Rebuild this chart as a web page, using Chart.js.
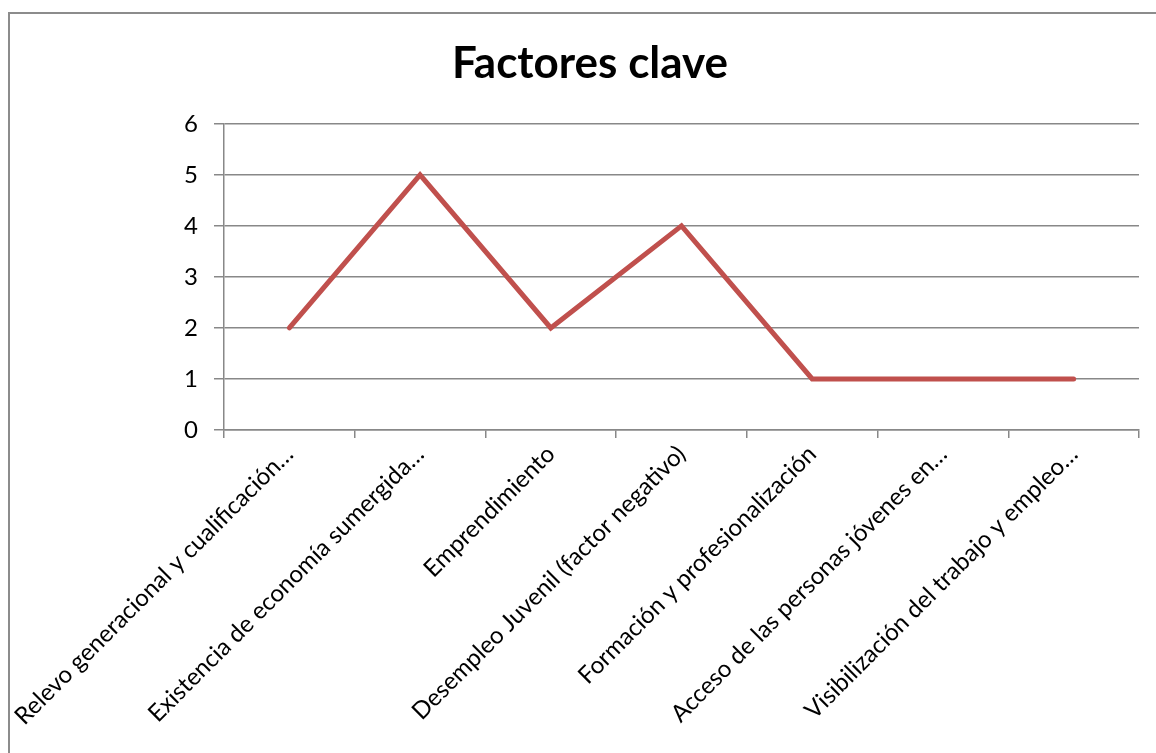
<!DOCTYPE html>
<html>
<head>
<meta charset="utf-8">
<script src="https://cdn.jsdelivr.net/npm/chart.js@4.4.0/dist/chart.umd.min.js"></script>
<style>
    body { margin: 0; overflow: hidden; background: #fff; width: 1156px; height: 753px; position: relative; }
    #frame { position: absolute; left: 8px; top: 12px; width: 1200px; height: 800px; border: 2px solid #8c8c8c; box-sizing: border-box; }
    #myChart { position: absolute; left: 10px; top: 14px; }
</style>
</head>
<body>
<div id="frame"></div>
<canvas id="myChart" width="1160" height="739"></canvas>
<script>
// data
const categories = [
    "Relevo generacional y cualificación…",
    "Existencia de economía sumergida…",
    "Emprendimiento",
    "Desempleo Juvenil (factor negativo)",
    "Formación y profesionalización",
    "Acceso de las personas jóvenes en…",
    "Visibilización del trabajo y empleo…"
];
const values = [2, 5, 2, 4, 1, 1, 1];
const yTicks = [0, 1, 2, 3, 4, 5, 6];

const gridGrey = "#888888";
const fontName = "Lato, 'Open Sans', sans-serif";

new Chart("myChart", {
    type: "line",
    data: {
        labels: categories,
        datasets: [{
            data: values,
            borderColor: "#c0504d",
            borderWidth: 5,
            borderCapStyle: "round",
            borderJoinStyle: "miter",
            pointRadius: 0,
            tension: 0,
            fill: false
        }]
    },
    options: {
        responsive: false,
        animation: false,
        // same padding both sides so the title sits on the frame centre
        layout: { padding: { left: 31, right: 31, top: 0, bottom: 0 } },
        plugins: {
            legend: { display: false },
            tooltip: { enabled: false },
            title: {
                display: true,
                text: "Factores clave",
                color: "#000",
                font: { family: fontName, size: 44, weight: "bold", lineHeight: 1.2 },
                padding: { top: 23, bottom: 34 }
            }
        },
        scales: {
            x: {
                offset: true,
                grid: { offset: true, drawOnChartArea: false, color: gridGrey, lineWidth: 1.5, tickLength: 8 },
                border: { color: gridGrey, width: 1.5 },
                ticks: {
                    autoSkip: false, maxRotation: 45, minRotation: 45,
                    color: "#000", padding: 2,
                    font: { family: fontName, size: 24 }
                },
                afterFit: function (scale) {
                    scale.height = 739 - 416;
                    scale.paddingLeft = 0;
                    scale.paddingRight = 0;
                }
            },
            y: {
                min: 0, max: 6,
                afterBuildTicks: function (scale) {
                    scale.ticks = yTicks.map(v => ({ value: v }));
                },
                grid: { color: gridGrey, lineWidth: 1.5, tickLength: 10 },
                border: { color: gridGrey, width: 1.5 },
                ticks: { color: "#000", padding: 16, font: { family: fontName, size: 24 } },
                afterFit: function (scale) {
                    scale.width = 214 - 31;
                }
            }
        }
    }
});
</script>
</body>
</html>
